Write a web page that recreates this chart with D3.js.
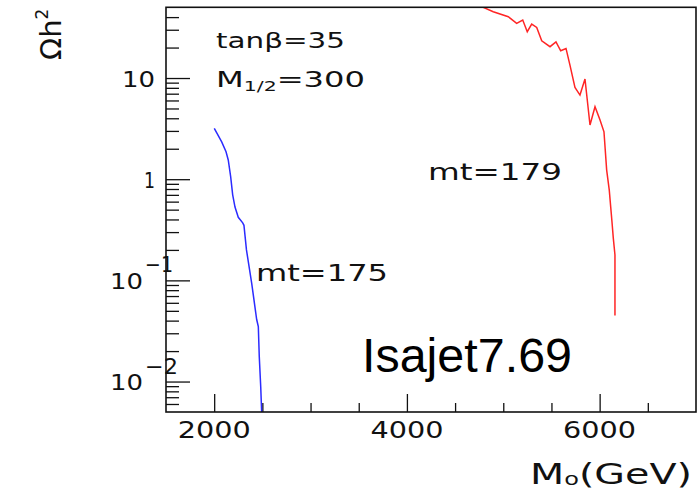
<!DOCTYPE html>
<html><head><meta charset="utf-8">
<script src="https://cdn.jsdelivr.net/npm/d3@7"></script>
<style>body{margin:0;background:#fff}svg{display:block}</style>
</head><body><svg id="c" width="699" height="490"></svg>
<script>
// ---- data ----
const blueM0  = [2001,2078,2123,2146,2171,2192,2216,2250,2296,2309,2335,2389,2441,2458,2468,2483,2494];
const blueOh2 = [3.18,2.34,1.87,1.55,1.06,0.70,0.53,0.42,0.37,0.35,0.20,0.094,0.041,0.035,0.0176,0.0089,0.0046];
const redM0  = [4770,4793,4896,5052,5139,5202,5249,5295,5347,5399,5485,5547,5596,5651,5692,5744,5796,5848,5900,5952,6004,6045,6073,6100,6115,6128,6142,6159,6159];
const redOh2 = [52,49.9,45.2,40.3,34.7,37.4,28.7,34.1,31.6,23.3,20.4,22.8,18.6,19.6,13.4,8.09,6.78,9.77,3.43,5.20,3.84,2.94,1.23,0.78,0.53,0.38,0.26,0.178,0.045];
const xMajor = [2000,4000,6000];
const xMajorLabels = ["2000","4000","6000"];
const xMinor = [2500,3000,3500,4500,5000,5500,6500];
const yMajor = [0.01,0.1,1,10];
const yLabelBase = ["10","10","1","10"];
const yLabelExp  = ["\u22122","\u22121","",""];
const yMinor = [0.006,0.007,0.008,0.009,0.02,0.03,0.04,0.05,0.06,0.07,0.08,0.09,
                0.2,0.3,0.4,0.5,0.6,0.7,0.8,0.9,2,3,4,5,6,7,8,9,20,30,40];

const svg = d3.select("#c");
const L=166, R=696, T=7.3, B=412;
const x = d3.scaleLinear().domain([1500,7000]).range([L,R]);
const y = d3.scaleLog().domain([0.005,50]).range([B,T]);
const font = "'DejaVu Sans', sans-serif";

svg.append("rect").attr("width",699).attr("height",490).attr("fill","#fff");

svg.append("clipPath").attr("id","clip").append("rect")
  .attr("x",L).attr("y",T).attr("width",R-L).attr("height",B-T);

// axes ticks (inward)
function styleAxis(g){ g.select(".domain").remove(); g.selectAll("line").attr("stroke","#111").attr("stroke-width",1.3); g.selectAll("text").remove(); }
svg.append("g").attr("transform",`translate(0,${B})`).call(d3.axisBottom(x).tickValues(xMajor).tickSize(-18).tickFormat("")).call(styleAxis);
svg.append("g").attr("transform",`translate(0,${B})`).call(d3.axisBottom(x).tickValues(xMinor).tickSize(-9).tickFormat("")).call(styleAxis);
svg.append("g").attr("transform",`translate(${L},0)`).call(d3.axisLeft(y).tickValues(yMajor).tickSize(-24).tickFormat("")).call(styleAxis);
svg.append("g").attr("transform",`translate(${L},0)`).call(d3.axisLeft(y).tickValues(yMinor).tickSize(-13).tickFormat("")).call(styleAxis);

// curves
const line = d3.line().x(d=>x(d[0])).y(d=>y(d[1]));
const gc = svg.append("g").attr("clip-path","url(#clip)");
gc.append("path").datum(blueM0.map((v,i)=>[v,blueOh2[i]])).attr("d",line)
  .attr("fill","none").attr("stroke","#2b2bff").attr("stroke-width",1.5);
gc.append("path").datum(redM0.map((v,i)=>[v,redOh2[i]])).attr("d",line)
  .attr("fill","none").attr("stroke","#ff2525").attr("stroke-width",1.5);

// frame
svg.append("rect").attr("x",L).attr("y",T).attr("width",R-L).attr("height",B-T)
  .attr("fill","none").attr("stroke","#111").attr("stroke-width",1.6);

// x tick labels
xMajor.forEach((v,i)=>{
  svg.append("text").attr("x",x(v)).attr("y",438).attr("text-anchor","middle")
    .attr("font-family",font).attr("font-size",22.5).attr("fill","#111")
    .attr("textLength",73).attr("lengthAdjust","spacingAndGlyphs").text(xMajorLabels[i]);
});
// y tick labels
yMajor.forEach((v,i)=>{
  const ty = y(v);
  const hasExp = yLabelExp[i] !== "";
  const base = yLabelBase[i];
  const right = hasExp ? 143 : 155;
  const w = base.length===2 ? 33 : 11;
  svg.append("text").attr("x",right-w).attr("y",ty+8.5)
    .attr("font-family",font).attr("font-size",21.5).attr("fill","#111")
    .attr("textLength",w).attr("lengthAdjust","spacingAndGlyphs").text(base);
  if(hasExp){
    svg.append("text").attr("x",145).attr("y",ty-8)
      .attr("font-family",font).attr("font-size",21).attr("fill","#111")
      .attr("textLength",yLabelExp[i]==="\u22121"?28:33).attr("lengthAdjust","spacingAndGlyphs").text(yLabelExp[i]);
  }
});

// axis titles
const xt = svg.append("text").attr("x",530).attr("y",484)
  .attr("font-family",font).attr("font-size",28).attr("fill","#111")
  .attr("textLength",162).attr("lengthAdjust","spacingAndGlyphs");
xt.append("tspan").text("M");
xt.append("tspan").attr("font-size",17).attr("dy",1).text("o");
xt.append("tspan").attr("dy",-1).text("(GeV)");

const yt = svg.append("text").attr("transform","translate(61,60) rotate(-90)")
  .attr("font-family",font).attr("font-size",29).attr("fill","#111");
yt.append("tspan").text("\u03A9h");
yt.append("tspan").attr("font-size",17).attr("dy",-13).text("2");

// annotations
svg.append("text").attr("x",216).attr("y",48).attr("font-family",font).attr("font-size",22)
  .attr("fill","#111").attr("textLength",129).attr("lengthAdjust","spacingAndGlyphs").text("tan\u03B2=35");
const m12 = svg.append("text").attr("x",216).attr("y",87).attr("font-family",font).attr("font-size",22)
  .attr("fill","#111").attr("textLength",149).attr("lengthAdjust","spacingAndGlyphs");
m12.append("tspan").text("M");
m12.append("tspan").attr("font-size",14).attr("dy",4).text("1/2");
m12.append("tspan").attr("dy",-4).text("=300");

svg.append("text").attr("x",428).attr("y",180).attr("font-family",font).attr("font-size",23)
  .attr("fill","#111").attr("textLength",134).attr("lengthAdjust","spacingAndGlyphs").text("mt=179");
svg.append("text").attr("x",256).attr("y",281).attr("font-family",font).attr("font-size",23)
  .attr("fill","#111").attr("textLength",132).attr("lengthAdjust","spacingAndGlyphs").text("mt=175");

svg.append("text").attr("x",362).attr("y",372).attr("font-family","'Liberation Sans', Arial, sans-serif")
  .attr("font-size",47.5).attr("fill","#000").attr("textLength",210).attr("lengthAdjust","spacingAndGlyphs").text("Isajet7.69");
</script></body></html>
